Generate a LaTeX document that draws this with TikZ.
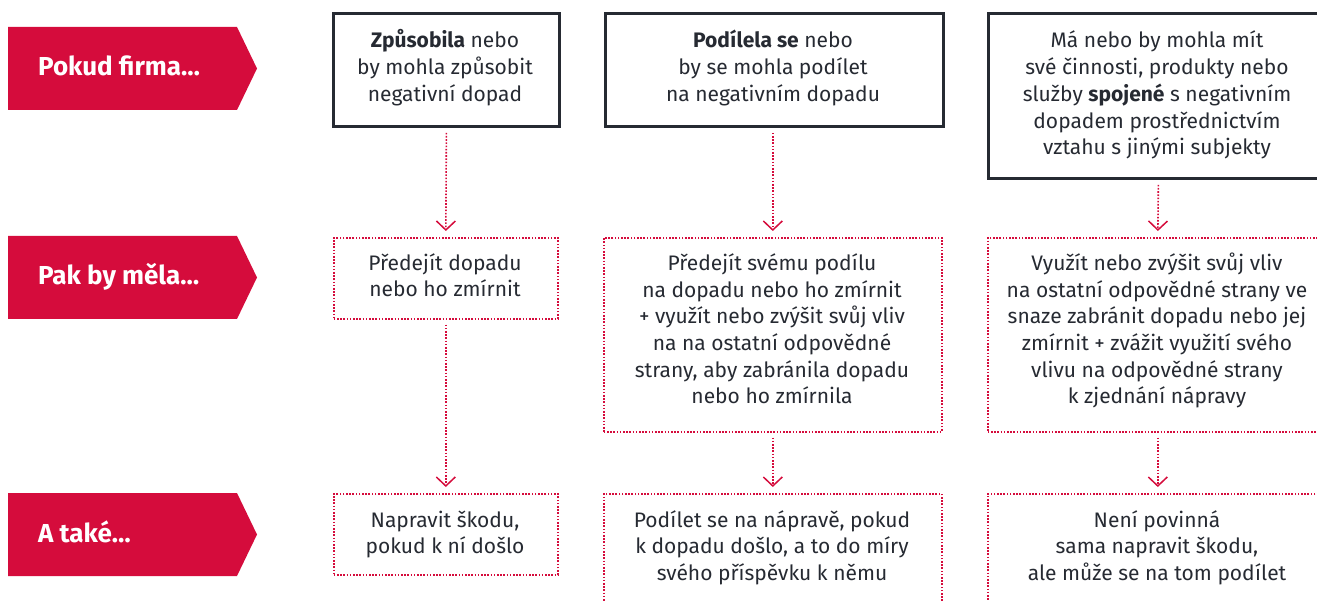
\documentclass[tikz,border=0pt]{standalone}
\usepackage{fontspec}
\setmainfont{Fira Sans}
\usetikzlibrary{arrows.meta}
\definecolor{crimson}{RGB}{213,12,60}
\definecolor{ink}{RGB}{38,42,50}
\begin{document}
\begin{tikzpicture}[x=1pt,y=-1pt,
  lblshape/.style={fill=crimson, draw=none},
  lbltext/.style={anchor=base west, text=white, inner sep=0pt, font=\fontsize{26}{30}\selectfont\bfseries},
  solidbox/.style={draw=ink, line width=2.8pt, anchor=north west, inner sep=0pt},
  dotbox/.style={draw=crimson, line width=1.6pt, dash pattern=on 1.6pt off 1.6pt, anchor=north west, inner sep=0pt},
  txt/.style={anchor=base, align=center, text=ink, inner sep=0pt, font=\fontsize{21}{26.7}\selectfont},
  flow/.style={draw=crimson, line width=1.6pt, dash pattern=on 1.6pt off 1.6pt,
     -{Straight Barb[length=9pt, width=19pt, line width=1.5pt]}, shorten <=5pt, shorten >=6pt}]
\useasboundingbox (0,0) rectangle (1317,601);
\clip (0,0) rectangle (1317,601);

% row labels
\fill[lblshape] (8,27) -- (237,27) -- (257,68.5) -- (237,110) -- (8,110) -- cycle;
\node[lbltext] (l1) at (38,76) {Pokud firma…};
\fill[lblshape] (8,236) -- (237,236) -- (257,277.5) -- (237,319) -- (8,319) -- cycle;
\node[lbltext] (l2) at (38,285) {Pak by měla…};
\fill[lblshape] (8,493) -- (237,493) -- (257,534.5) -- (237,576) -- (8,576) -- cycle;
\node[lbltext] (l3) at (38,542) {A také…};

% row 1 boxes
\node[solidbox, minimum width=226pt, minimum height=113pt] (b1) at (332,12) {};
\node[solidbox, minimum width=338pt, minimum height=113pt] (b2) at (604,12) {};
\node[solidbox, minimum width=340pt, minimum height=165pt] (b3) at (987,12) {};

% row 2 boxes
\node[dotbox, minimum width=224pt, minimum height=81pt] (c1) at (333,237) {};
\node[dotbox, minimum width=338pt, minimum height=194pt] (c2) at (603,237) {};
\node[dotbox, minimum width=340pt, minimum height=194pt] (c3) at (987,237) {};

% row 3 boxes
\node[dotbox, minimum width=224pt, minimum height=81pt] (d1) at (333,493) {};
\node[dotbox, minimum width=338pt, minimum height=150pt] (d2) at (603,493) {};
\node[dotbox, minimum width=340pt, minimum height=150pt] (d3) at (987,493) {};

% texts (anchor = baseline of last line)
\node[txt] (tb1) at (445,101.4) {\textbf{Způsobila} nebo\\by mohla způsobit\\negativní dopad};
\node[txt] (tb2) at (773,101.4) {\textbf{Podílela se} nebo\\by se mohla podílet\\na negativním dopadu};
\node[txt] (tb3) at (1157,154.8) {Má nebo by mohla mít\\své činnosti, produkty nebo\\služby \textbf{spojené} s negativním\\dopadem prostřednictvím\\vztahu s jinými subjekty};

\node[txt] (tc1) at (445,297) {Předejít dopadu\\nebo ho zmírnit};
\node[txt] (tc2) at (772,403.8) {Předejít svému podílu\\na dopadu nebo ho zmírnit\\+ využít nebo zvýšit svůj vliv\\na na ostatní odpovědné\\strany, aby zabránila dopadu\\nebo ho zmírnila};
\node[txt] (tc3) at (1157,403.8) {Využít nebo zvýšit svůj vliv\\na ostatní odpovědné strany ve\\snaze zabránit dopadu nebo jej\\zmírnit + zvážit využití svého\\vlivu na odpovědné strany\\k zjednání nápravy};

\node[txt] (td1) at (445,553.7) {Napravit škodu,\\pokud k ní došlo};
\node[txt] (td2) at (772,580.4) {Podílet se na nápravě, pokud\\k dopadu došlo, a to do míry\\svého příspěvku k němu};
\node[txt] (td3) at (1157,580.4) {Není povinná\\sama napravit škodu,\\ale může se na tom podílet};

% connectors
\draw[flow] (b1.south) -- (c1.north);
\draw[flow] (b2.south -| c2.north) -- (c2.north);
\draw[flow] (b3.south) -- (c3.north);
\draw[flow] (c1.south) -- (d1.north);
\draw[flow] (c2.south) -- (d2.north);
\draw[flow] (c3.south) -- (d3.north);
\end{tikzpicture}
\end{document}
